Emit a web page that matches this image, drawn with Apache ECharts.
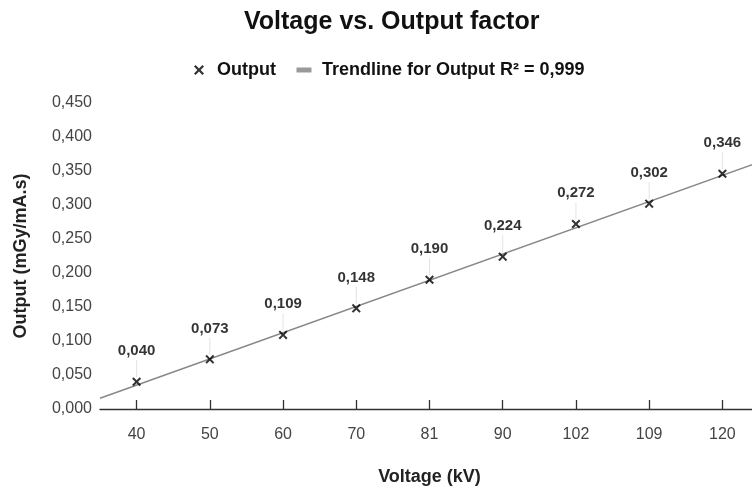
<!DOCTYPE html>
<html><head><meta charset="utf-8">
<script src="https://cdn.jsdelivr.net/npm/echarts@6/dist/echarts.min.js"></script>
<style>html,body{margin:0;padding:0;background:#fff}#c{width:752px;height:487px}</style>
</head><body><div id="c"></div>
<script>
var categories = ['40','50','60','70','81','90','102','109','120'];
var outputValues = [0.040, 0.073, 0.109, 0.148, 0.190, 0.224, 0.272, 0.302, 0.346];
var yTicks = {min: 0, max: 0.45, interval: 0.05};
var titleText = 'Voltage vs. Output factor';
var seriesName = 'Output';
var trendName = 'Trendline for Output R\u00b2 = 0,999';
var xName = 'Voltage (kV)';
var yName = 'Output (mGy/mA.s)';

// linear least-squares trendline over category index
var n = outputValues.length, sx = 0, sy = 0, sxy = 0, sxx = 0;
outputValues.forEach(function (v, i) { sx += i; sy += v; sxy += i * v; sxx += i * i; });
var slope = (n * sxy - sx * sy) / (n * sxx - sx * sx);
var icpt = (sy - slope * sx) / n;
var trendData = [[-0.5, icpt + slope * -0.5], [n - 0.5, icpt + slope * (n - 0.5)]];

function fmt(v) { return v.toFixed(3).replace('.', ','); }
var FONT = 'Liberation Sans, Arial, sans-serif';
var xPath = 'path://M0,1.6 L1.6,0 L5,3.4 L8.4,0 L10,1.6 L6.6,5 L10,8.4 L8.4,10 L5,6.6 L1.6,10 L0,8.4 L3.4,5 Z';
var trendIcon = 'path://M0,0 L0.01,0 L0,0.01 Z M26,10 L25.99,10 L26,9.99 Z M6,2.5 L20,2.5 Q20.5,2.5 20.5,3 L20.5,7 Q20.5,7.5 20,7.5 L6,7.5 Q5.5,7.5 5.5,7 L5.5,3 Q5.5,2.5 6,2.5 Z';
var leaderPath = 'path://M0,0 L1,0 L1,10 L0,10 Z';

var chart = echarts.init(document.getElementById('c'), null, {renderer: 'canvas'});
chart.setOption({
  animation: false,
  backgroundColor: '#ffffff',
  textStyle: {fontFamily: FONT},
  title: {text: titleText, left: 239, top: 5,
    textStyle: {fontFamily: FONT, fontSize: 25, fontWeight: 'bold', color: '#111'}},
  legend: {top: 56, left: 189, itemWidth: 26, itemHeight: 10, itemGap: 15,
    textStyle: {fontFamily: FONT, fontSize: 18, fontWeight: 'bold', color: '#111'},
    data: [
      {name: seriesName, icon: xPath, itemStyle: {color: '#000'}},
      {name: trendName, icon: trendIcon, itemStyle: {color: '#999'}}
    ]},
  grid: {left: 100, right: -7, top: 103, bottom: 78, containLabel: false, outerBoundsMode: 'none'},
  xAxis: [
    {type: 'category', data: categories, boundaryGap: true,
      name: xName, nameLocation: 'middle', nameGap: 59,
      nameTextStyle: {fontFamily: FONT, fontSize: 18, fontWeight: 'bold', color: '#222'},
      axisLine: {lineStyle: {color: '#333', width: 1.3}},
      axisTick: {alignWithLabel: true, length: 8, lineStyle: {color: '#333', width: 1.3}},
      axisLabel: {fontFamily: FONT, fontSize: 16, color: '#444', margin: 18},
      splitLine: {show: false}},
    {type: 'value', min: -0.5, max: n - 0.5, show: false},
    {type: 'category', data: categories, boundaryGap: true, position: 'bottom', offset: 0,
      axisLine: {show: true, lineStyle: {color: 'rgba(0,0,0,0)'}}, axisLabel: {show: false},
      axisTick: {show: true, inside: true, alignWithLabel: true, length: 9, lineStyle: {color: '#333', width: 1.3}},
      splitLine: {show: false}}
  ],
  yAxis: {type: 'value', min: yTicks.min, max: yTicks.max, interval: yTicks.interval,
    name: yName, nameLocation: 'middle', nameGap: 70,
    nameTextStyle: {fontFamily: FONT, fontSize: 18, fontWeight: 'bold', color: '#222'},
    axisLine: {show: false}, axisTick: {show: false}, splitLine: {show: false},
    axisLabel: {fontFamily: FONT, fontSize: 16, color: '#444', margin: 8, formatter: fmt}},
  series: [
    {name: trendName, type: 'line', xAxisIndex: 1, data: trendData, symbol: 'none',
      lineStyle: {color: '#888', width: 1.5}, z: 2, silent: true},
    {name: 'leader', type: 'scatter', xAxisIndex: 0, data: outputValues,
      symbol: leaderPath, symbolSize: [1, 17], symbolOffset: [0, -13],
      itemStyle: {color: '#dcdcdc'}, z: 1, silent: true, legendHoverLink: false},
    {name: seriesName, type: 'scatter', xAxisIndex: 0, data: outputValues,
      symbol: xPath, symbolSize: 9, itemStyle: {color: '#000'}, z: 3,
      label: {show: true, position: 'top', distance: 19, formatter: function (p) { return fmt(p.value); },
        fontFamily: FONT, fontSize: 15, fontWeight: 'bold', color: '#000'}}
  ]
});
</script></body></html>
